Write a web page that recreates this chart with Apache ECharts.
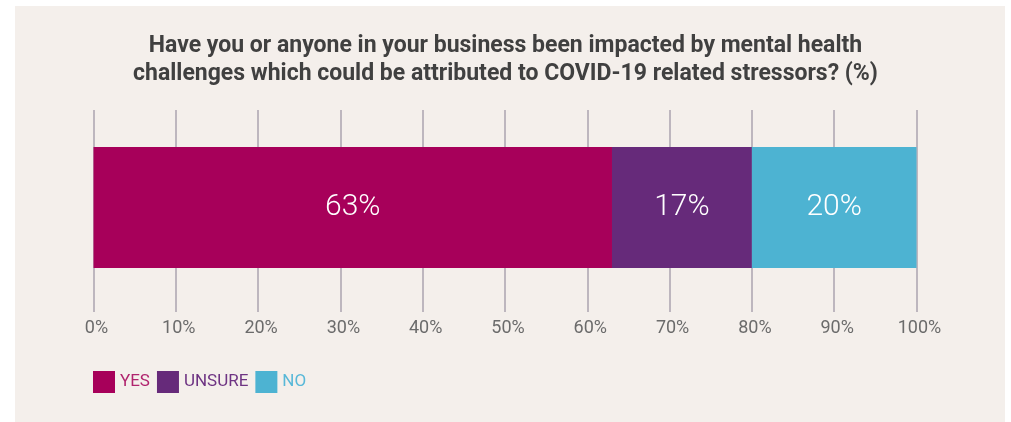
<!DOCTYPE html>
<html><head><meta charset="utf-8">
<script src="https://cdn.jsdelivr.net/npm/echarts@6/dist/echarts.min.js"></script>
<style>html,body{margin:0;padding:0;background:#fff;}#c{width:1011px;height:422px;}</style>
</head><body><div id="c"></div>
<script>
const categories = ['Impact'];
const seriesNames = ['YES', 'UNSURE', 'NO'];
const yesValues = [63];
const unsureValues = [17];
const noValues = [20];
const tickValues = [0, 10, 20, 30, 40, 50, 60, 70, 80, 90, 100];
const titleText = 'Have you or anyone in your business been impacted by mental health\nchallenges which could be attributed to COVID-19 related stressors? (%)';

const colors = ['#a7005a', '#662a7a', '#4db3d2'];
const legendTextColors = ['#b0246e', '#6e3483', '#58b8d8'];
const seriesData = [yesValues, unsureValues, noValues];

const chart = echarts.init(document.getElementById('c'), null, {renderer: 'canvas'});
chart.setOption({
  backgroundColor: '#ffffff',
  animation: false,
  graphic: [{type: 'rect', z: -10, shape: {x: 15, y: 6, width: 990, height: 416}, style: {fill: '#f4efeb'}}],
  title: {
    text: titleText, left: 'center', top: 27,
    textStyle: {fontFamily: 'Roboto', fontWeight: 'bold', fontSize: 23, color: '#404040', lineHeight: 28}
  },
  legend: {
    left: 93, top: 371, padding: 0, itemWidth: 22, itemHeight: 22, itemGap: 7,
    icon: 'rect',
    data: seriesNames.map((n, i) => ({name: n, textStyle: {color: legendTextColors[i]}})),
    textStyle: {fontFamily: 'Roboto', fontSize: 17, padding: [2, 0, 0, 0]}
  },
  grid: {left: 93.5, right: 94.5, top: 103, height: 209},
  xAxis: {
    type: 'value', min: 0, max: 100, interval: 10,
    axisLine: {show: false},
    splitLine: {show: false},
    axisTick: {show: true, inside: true, length: 202, lineStyle: {color: '#aaa4b0', width: 1.5}},
    axisLabel: {formatter: v => v + '%', margin: 7, padding: [0, 0, 0, 6], fontFamily: 'Roboto', fontSize: 18, color: '#6b6b6b'}
  },
  yAxis: {type: 'category', data: categories, show: false},
  series: seriesNames.map((n, i) => ({
    name: n, type: 'bar', stack: 'total', data: seriesData[i], barWidth: 121,
    itemStyle: {color: colors[i]},
    label: {show: true, position: 'inside', formatter: p => p.value + '%', color: '#fff', fontFamily: 'Roboto', fontWeight: 300, fontSize: 30}
  }))
});
</script></body></html>
